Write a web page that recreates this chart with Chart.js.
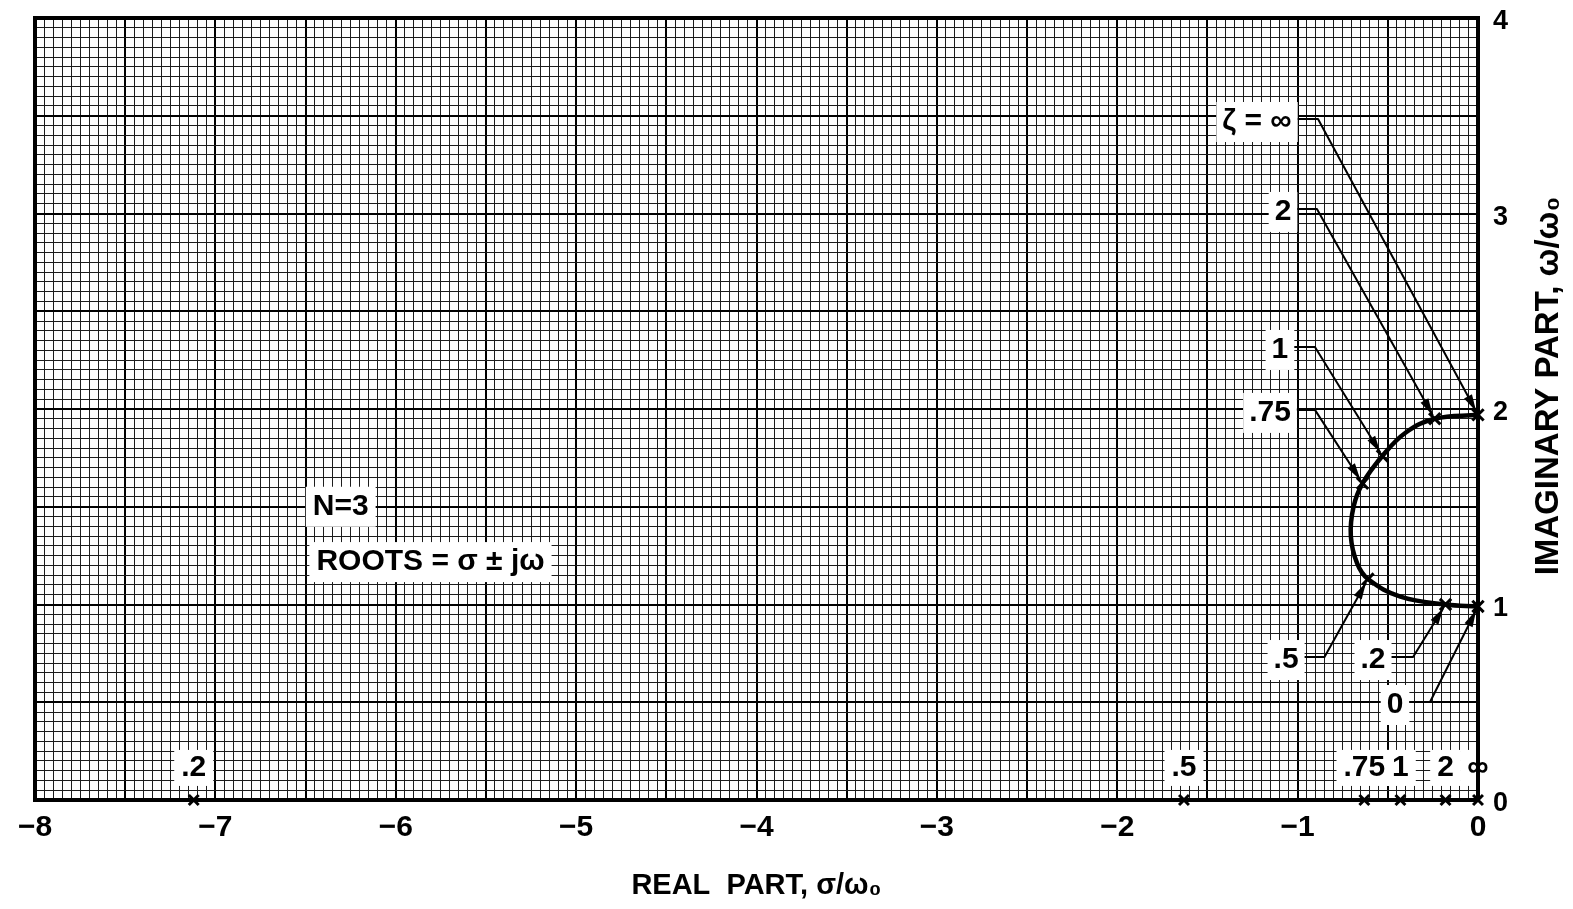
<!DOCTYPE html>
<html>
<head>
<meta charset="utf-8">
<script src="https://cdn.jsdelivr.net/npm/chart.js@4.4.1/dist/chart.umd.min.js"></script>
<style>
  html, body { margin: 0; padding: 0; background: #fff; }
  canvas { display: block; }
</style>
</head>
<body>
<canvas id="c" width="1573" height="909"></canvas>
<script>
// Complex-root locus in the upper half plane, traced from ζ = ∞ down to ζ = 0
const locusRe = [0, -0.24, -0.40, -0.53, -0.64, -0.69, -0.705, -0.67, -0.61, -0.43, -0.18, 0];
const locusIm = [1.97, 1.95, 1.88, 1.76, 1.62, 1.50, 1.35, 1.21, 1.13, 1.04, 1.00, 0.99];

// Marked complex roots and the damping ratio of each
const complexZeta = ['ζ = ∞', '2', '1', '.75', '.5', '.2', '0'];
const complexRe = [0, -0.24, -0.53, -0.64, -0.61, -0.18, 0];
const complexIm = [1.97, 1.95, 1.76, 1.62, 1.13, 1.00, 0.99];

// Real root for each damping ratio
const realZeta = ['.2', '.5', '.75', '1', '2', '∞'];
const realRe = [-7.12, -1.63, -0.63, -0.43, -0.18, 0];
const realIm = [0, 0, 0, 0, 0, 0];

// Axis ticks
const xTickValues = [-8, -7, -6, -5, -4, -3, -2, -1, 0];
const xTickLabels = ['−8', '−7', '−6', '−5', '−4', '−3', '−2', '−1', '0'];
const yTickValues = [0, 1, 2, 3, 4];
const yTickLabels = ['0', '1', '2', '3', '4'];

const FONT = "'Liberation Sans', 'DejaVu Sans', sans-serif";

// Callout placement (data units): text centre and the x of the leader's elbow
const callouts = [
  { idx: 0, tx: -1.225, ty: 3.468, ex: -0.887 },
  { idx: 1, tx: -1.081, ty: 3.008, ex: -0.893 },
  { idx: 2, tx: -1.098, ty: 2.302, ex: -0.904 },
  { idx: 3, tx: -1.153, ty: 1.980, ex: -0.904 },
  { idx: 4, tx: -1.064, ty: 0.716, ex: -0.851 },
  { idx: 5, tx: -0.582, ty: 0.716, ex: -0.360 },
  { idx: 6, tx: -0.460, ty: 0.486, ex: -0.266 }
];
const realLabelY = 0.164;
const notes = [
  { text: 'N=3', x: -6.46, y: 1.50 },
  { text: 'ROOTS = σ ± jω', x: -6.44, y: 1.217 }
];

// Graph-paper rulings every 0.05 unit
function rulings(lo, hi) {
  const out = [];
  for (let i = 0; i <= Math.round((hi - lo) / 0.05); i++) out.push(Math.round((lo + i * 0.05) * 100) / 100);
  return out;
}
const isMajor = v => Math.abs(v * 2 - Math.round(v * 2)) < 1e-6;
const labelFor = (vals, labels) => v => {
  const i = vals.findIndex(t => Math.abs(t - v) < 1e-6);
  return i >= 0 ? labels[i] : '';
};

function textBox(ctx, text, cx, cy, font, padX, padY) {
  ctx.font = font;
  const w = ctx.measureText(text).width;
  return { x: cx - w / 2 - padX, y: cy - 20 - padY, w: w + 2 * padX, h: 40 + 2 * padY, right: cx + w / 2 + padX };
}

function arrowPath(ctx, pts, gap) {
  const n = pts.length;
  const [tx, ty] = pts[n - 1];
  const [sx, sy] = pts[n - 2];
  const ang = Math.atan2(ty - sy, tx - sx);
  const c = Math.cos(ang), s = Math.sin(ang);
  const ex = tx - c * gap, ey = ty - s * gap;
  ctx.beginPath();
  ctx.moveTo(pts[0][0], pts[0][1]);
  for (let i = 1; i < n - 1; i++) ctx.lineTo(pts[i][0], pts[i][1]);
  ctx.lineTo(ex, ey);
  ctx.stroke();
  const L = 17, W = 4.5;
  ctx.beginPath();
  ctx.moveTo(ex, ey);
  ctx.lineTo(ex - L * c + W * s, ey - L * s - W * c);
  ctx.lineTo(ex - L * c - W * s, ey - L * s + W * c);
  ctx.closePath();
  ctx.fill();
}

const decor = {
  id: 'decor',
  beforeDatasetsDraw(chart) {
    const { ctx, chartArea: a, scales: { x, y } } = chart;
    const calloutFont = `bold 30px ${FONT}`;
    ctx.save();
    ctx.fillStyle = '#fff';
    // white panels behind callouts
    callouts.forEach(cl => {
      const b = textBox(ctx, complexZeta[cl.idx], x.getPixelForValue(cl.tx), y.getPixelForValue(cl.ty), calloutFont, 6, 0);
      ctx.fillRect(b.x, b.y, b.w, b.h);
    });
    realZeta.forEach((z, i) => {
      const b = textBox(ctx, z, x.getPixelForValue(realRe[i]), y.getPixelForValue(realLabelY), calloutFont, 7, -2);
      ctx.fillRect(b.x, b.y, b.w, b.h);
    });
    ctx.font = calloutFont;
    notes.forEach(nt => {
      const w = ctx.measureText(nt.text).width;
      const lx = x.getPixelForValue(nt.x), cy = y.getPixelForValue(nt.y);
      ctx.fillRect(lx - 7, cy - 20, w + 14, 40);
    });
    // text
    ctx.fillStyle = '#000';
    ctx.textBaseline = 'middle';
    ctx.textAlign = 'center';
    callouts.forEach(cl => {
      ctx.fillText(complexZeta[cl.idx], x.getPixelForValue(cl.tx), y.getPixelForValue(cl.ty));
    });
    realZeta.forEach((z, i) => {
      ctx.fillText(z, x.getPixelForValue(realRe[i]), y.getPixelForValue(realLabelY));
    });
    ctx.textAlign = 'left';
    notes.forEach(nt => ctx.fillText(nt.text, x.getPixelForValue(nt.x), y.getPixelForValue(nt.y)));
    // heavy frame
    ctx.lineWidth = 4;
    ctx.strokeStyle = '#000';
    ctx.strokeRect(a.left, a.top, a.right - a.left, a.bottom - a.top);
    ctx.restore();
  },
  afterDatasetsDraw(chart) {
    const { ctx, chartArea: a, scales: { x, y } } = chart;
    ctx.save();
    ctx.strokeStyle = '#000';
    ctx.fillStyle = '#000';
    ctx.lineWidth = 2;
    ctx.lineJoin = 'round';
    const calloutFont = `bold 30px ${FONT}`;
    callouts.forEach(cl => {
      const cx = x.getPixelForValue(cl.tx), cy = y.getPixelForValue(cl.ty);
      const b = textBox(ctx, complexZeta[cl.idx], cx, cy, calloutFont, 6, 0);
      const ly = cy - 3;
      const tgt = [x.getPixelForValue(complexRe[cl.idx]), y.getPixelForValue(complexIm[cl.idx])];
      arrowPath(ctx, [[b.right, ly], [x.getPixelForValue(cl.ex), ly], tgt], 4);
    });
    // vertical axis title, reading upward
    ctx.font = `bold 33px ${FONT}`;
    ctx.textAlign = 'center';
    ctx.textBaseline = 'middle';
    ctx.translate(a.right + 71, a.top + 368);
    ctx.rotate(-Math.PI / 2);
    ctx.fillText('IMAGINARY PART, ω/ω₀', 0, 0);
    ctx.restore();
  }
};

const pts = (xs, ys) => xs.map((v, i) => ({ x: v, y: ys[i] }));
const noEdgePadding = s => { s.paddingTop = 0; s.paddingBottom = 0; s.paddingLeft = 0; s.paddingRight = 0; };

new Chart(document.getElementById('c'), {
  type: 'scatter',
  data: {
    datasets: [
      {
        label: 'locus',
        data: pts(locusRe, locusIm),
        showLine: true,
        borderColor: '#000',
        borderWidth: 4.5,
        pointRadius: 0,
        tension: 0.4,
        clip: false
      },
      {
        label: 'complex roots',
        data: pts(complexRe, complexIm),
        pointStyle: 'crossRot',
        pointRadius: 8,
        borderColor: '#000',
        borderWidth: 3,
        clip: false
      },
      {
        label: 'real roots',
        data: pts(realRe, realIm),
        pointStyle: 'crossRot',
        pointRadius: 7,
        borderColor: '#000',
        borderWidth: 3,
        clip: false
      }
    ]
  },
  options: {
    responsive: false,
    animation: false,
    events: [],
    layout: { padding: { left: 35, top: 18, right: 0, bottom: 0 } },
    plugins: { legend: { display: false }, tooltip: { enabled: false } },
    scales: {
      x: {
        type: 'linear',
        position: 'bottom',
        min: -8,
        max: 0,
        afterBuildTicks: s => { s.ticks = rulings(-8, 0).map(v => ({ value: v })); },
        afterFit: s => { s.height = 109; noEdgePadding(s); },
        border: { display: false },
        grid: {
          drawTicks: false,
          color: c => isMajor(c.tick.value) ? '#000' : '#1c1c1c',
          lineWidth: c => isMajor(c.tick.value) ? 2 : 1
        },
        ticks: {
          autoSkip: false,
          maxRotation: 0,
          padding: 10,
          color: '#000',
          font: { family: FONT, size: 30, weight: 'bold' },
          callback: labelFor(xTickValues, xTickLabels)
        },
        title: {
          display: true,
          text: 'REAL  PART, σ/ω₀',
          color: '#000',
          font: { family: FONT, size: 29, weight: 'bold' },
          padding: { top: 0, bottom: 6 }
        }
      },
      y: {
        type: 'linear',
        position: 'right',
        min: 0,
        max: 4,
        afterBuildTicks: s => { s.ticks = rulings(0, 4).map(v => ({ value: v })); },
        afterFit: s => { s.width = 95; noEdgePadding(s); },
        border: { display: false },
        grid: {
          drawTicks: false,
          color: c => isMajor(c.tick.value) ? '#000' : '#1c1c1c',
          lineWidth: c => isMajor(c.tick.value) ? 2 : 1
        },
        ticks: {
          autoSkip: false,
          padding: 15,
          labelOffset: 4,
          color: '#000',
          font: { family: FONT, size: 27, weight: 'bold' },
          callback: labelFor(yTickValues, yTickLabels)
        }
      }
    }
  },
  plugins: [decor]
});
</script>
</body>
</html>
